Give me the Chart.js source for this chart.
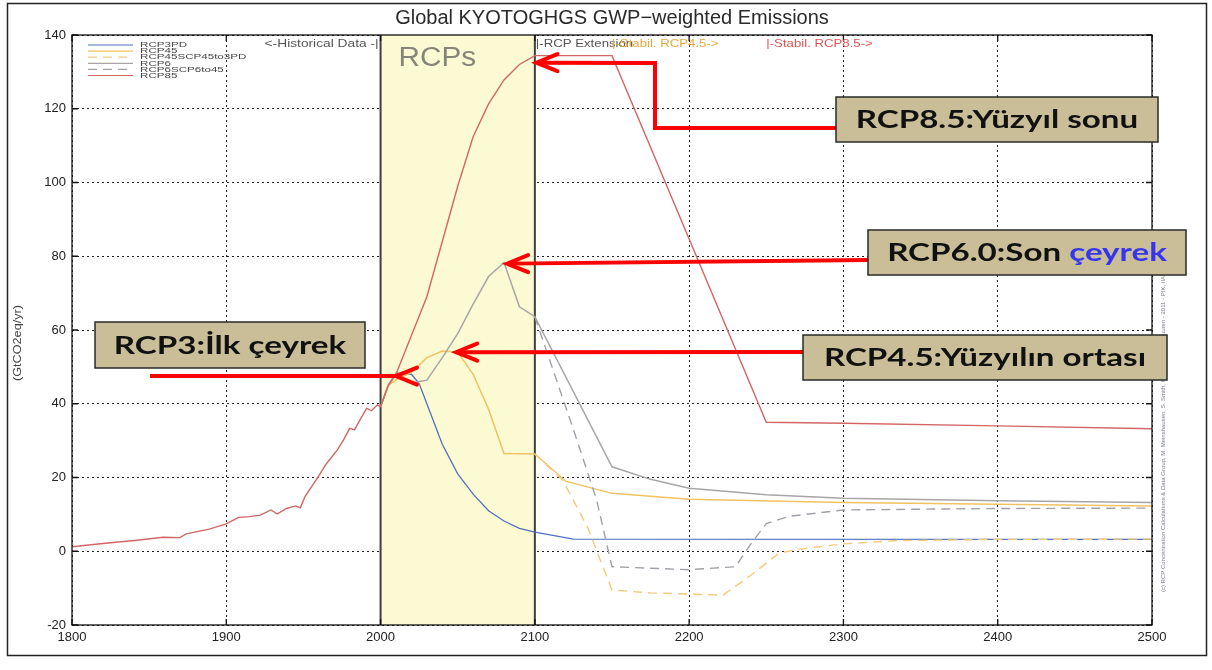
<!DOCTYPE html>
<html lang="tr">
<head>
<meta charset="utf-8">
<title>Global KYOTOGHGS GWP-weighted Emissions</title>
<script src="https://cdn.jsdelivr.net/npm/chart.js@4.4.1/dist/chart.umd.min.js"></script>
<style>
  html, body { margin: 0; padding: 0; background: #fff; }
  #kutu { width: 1212px; height: 670px; position: relative; }
</style>
</head>
<body>
<div id="kutu"><canvas id="grafik"></canvas></div>
<script>
// ── Veri (GtCO2eq/yr) ───────────────────────────────────
var TARIH_YIL   = [1800, 1820, 1842, 1859, 1870, 1874, 1889, 1900, 1908, 1915, 1922, 1929, 1933, 1939, 1945, 1948, 1951, 1959, 1965, 1972, 1976, 1980, 1983, 1991, 1994, 1998, 2000];
var TARIH_DEGER = [1.2, 2.1, 3.0, 3.8, 3.7, 4.7, 6.0, 7.4, 9.2, 9.4, 9.8, 11.2, 10.1, 11.6, 12.3, 11.8, 14.8, 19.8, 23.8, 27.5, 30.2, 33.3, 32.9, 38.8, 38.1, 39.7, 39.2];

var RCP3PD_YIL   = [2000, 2005, 2010, 2020, 2025, 2030, 2040, 2050, 2060, 2070, 2080, 2090, 2100, 2125, 2500];
var RCP3PD_DEGER = [39.2, 45, 48.3, 48, 45.5, 40, 29, 21, 15.5, 11, 8.2, 6.2, 5.2, 3.3, 3.2];

var RCP45_YIL   = [2000, 2005, 2010, 2020, 2030, 2040, 2050, 2060, 2070, 2080, 2100, 2120, 2150, 2200, 2300, 2500];
var RCP45_DEGER = [39.2, 45, 46.5, 48.5, 52.5, 54.3, 54, 48, 38.5, 26.5, 26.4, 19, 15.7, 14.1, 13.2, 12.3];

var RCP45SCP_YIL   = [2100, 2118, 2134, 2150, 2175, 2222, 2240, 2258, 2270, 2300, 2335, 2400, 2500];
var RCP45SCP_DEGER = [26.4, 19.3, 6.7, -10.5, -11.3, -11.9, -6.5, -0.6, 0.5, 2.0, 2.9, 3.2, 3.3];

var RCP6_YIL   = [2000, 2005, 2010, 2020, 2030, 2040, 2050, 2060, 2070, 2080, 2090, 2100, 2150, 2175, 2200, 2250, 2300, 2400, 2500];
var RCP6_DEGER = [39.2, 45, 48, 45.6, 46.4, 52.5, 59, 67, 74.5, 78.3, 66.3, 63.6, 22.9, 19.5, 17.1, 15.3, 14.4, 13.7, 13.2];

var RCP6SCP_YIL   = [2100, 2125, 2140, 2150, 2200, 2230, 2240, 2250, 2265, 2300, 2400, 2500];
var RCP6SCP_DEGER = [63.6, 33, 14, -4.2, -5, -4.2, 2, 7.5, 9.5, 11.2, 11.6, 11.7];

var RCP85_YIL   = [2005, 2010, 2020, 2030, 2040, 2050, 2060, 2070, 2080, 2090, 2100, 2150, 2250, 2300, 2400, 2500];
var RCP85_DEGER = [45, 48, 58.5, 69, 84, 99, 112.4, 121.3, 127.8, 132, 134.4, 134.4, 35, 34.7, 34, 33.2];

var X_TIKLER = [1800, 1900, 2000, 2100, 2200, 2300, 2400, 2500];
var Y_TIKLER = [-20, 0, 20, 40, 60, 80, 100, 120, 140];

// ── Renkler ─────────────────────────────────────────────
var MAVI    = '#4f72c0';
var SARI    = '#f0c262';
var SARI_K  = '#f3c97c';
var GRI     = '#a6a6a6';
var GRI_K   = '#a0a0aa';
var KIRMIZI = '#d26666';
var OK_RENK = '#ff0000';
var KUTU    = '#c9be97';

Chart.defaults.font.family = "'Liberation Sans', Arial, sans-serif";
Chart.defaults.color = '#222';

function noktalar(yillar, degerler) {
  return yillar.map(function(y, i) { return { x: y, y: degerler[i] }; });
}

var seriler = [
  { label: 'RCP3PD', data: noktalar(RCP3PD_YIL, RCP3PD_DEGER), borderColor: MAVI, borderWidth: 1.3, order: 5 },
  { label: 'RCP45', data: noktalar(RCP45_YIL, RCP45_DEGER), borderColor: SARI, borderWidth: 1.5, order: 4 },
  { label: 'RCP45SCP45to3PD', data: noktalar(RCP45SCP_YIL, RCP45SCP_DEGER), borderColor: SARI_K, borderWidth: 1.4, borderDash: [9, 6], order: 3 },
  { label: 'RCP6', data: noktalar(RCP6_YIL, RCP6_DEGER), borderColor: GRI, borderWidth: 1.5, order: 2 },
  { label: 'RCP6SCP6to45', data: noktalar(RCP6SCP_YIL, RCP6SCP_DEGER), borderColor: GRI_K, borderWidth: 1.4, borderDash: [9, 6], order: 1 },
  { label: 'RCP85', data: noktalar(TARIH_YIL.concat(RCP85_YIL), TARIH_DEGER.concat(RCP85_DEGER)), borderColor: KIRMIZI, borderWidth: 1.4, order: 0 }
];

// Okların gösterdiği noktalar (yıl, değer)
var ETIKETLER = [
  { metin: ['RCP8.5:Yüzyıl sonu'], kutu: [836, 97, 322, 45], uc: [2101, 132.5], yol: [[836, 128], [655, 128], [655, 63]] },
  { metin: ['RCP6.0:Son ', 'çeyrek'], kutu: [868, 230, 318, 45], uc: [2082, 78], yol: [[868, 260]] },
  { metin: ['RCP4.5:Yüzyılın ortası'], kutu: [803, 335, 364, 45], uc: [2049, 54], yol: [[803, 352]] },
  { metin: ['RCP3:İlk çeyrek'], kutu: [95, 322, 270, 46], uc: [2010, 47.5], yol: [[150, 376]] }
];

function ok(ctx, yol, ux, uy) {
  ctx.save();
  ctx.strokeStyle = OK_RENK;
  ctx.lineWidth = 4;
  ctx.beginPath();
  ctx.moveTo(yol[0][0], yol[0][1]);
  for (var i = 1; i < yol.length; i++) ctx.lineTo(yol[i][0], yol[i][1]);
  ctx.lineTo(ux + 2, uy);
  ctx.stroke();
  ctx.lineCap = 'round';
  ctx.beginPath();
  ctx.moveTo(ux + 21, uy - 8.5);
  ctx.lineTo(ux, uy);
  ctx.lineTo(ux + 21, uy + 8.5);
  ctx.stroke();
  ctx.restore();
}

// yatay olarak gerilmiş yazı
function yaz(ctx, metin, x, y, sx) {
  ctx.save();
  ctx.translate(x, y);
  ctx.scale(sx, 1);
  ctx.fillText(metin, 0, 0);
  ctx.restore();
}

// ── Süslemeler: bant, çerçeve, lejant, notlar ───────────
var suslemeler = {
  id: 'suslemeler',
  beforeDatasetsDraw: function(chart) {
    var ctx = chart.ctx, a = chart.chartArea;
    var xs = chart.scales.x;
    var x0 = xs.getPixelForValue(2000), x1 = xs.getPixelForValue(2100);
    ctx.save();
    ctx.fillStyle = '#fcfad2';
    ctx.fillRect(x0, a.top, x1 - x0, a.bottom - a.top);
    ctx.fillStyle = '#85857a';
    ctx.font = "27px 'Liberation Sans', Arial";
    ctx.textBaseline = 'alphabetic';
    yaz(ctx, 'RCPs', x0 + 18, a.top + 31, 1.1);
    ctx.strokeStyle = '#404040';
    ctx.lineWidth = 2;
    ctx.beginPath();
    ctx.moveTo(x0, a.top); ctx.lineTo(x0, a.bottom);
    ctx.moveTo(x1, a.top); ctx.lineTo(x1, a.bottom);
    ctx.stroke();
    ctx.restore();
  },
  afterDatasetsDraw: function(chart) {
    var ctx = chart.ctx, a = chart.chartArea;
    var xs = chart.scales.x, ys = chart.scales.y;
    ctx.save();

    // eksen kutusu ve içe dönük çentikler
    ctx.strokeStyle = '#111';
    ctx.lineWidth = 1.3;
    ctx.strokeRect(a.left, a.top, a.right - a.left, a.bottom - a.top);
    ctx.beginPath();
    Y_TIKLER.forEach(function(v) {
      var y = ys.getPixelForValue(v);
      ctx.moveTo(a.left, y); ctx.lineTo(a.left + 6, y);
      ctx.moveTo(a.right, y); ctx.lineTo(a.right - 6, y);
    });
    X_TIKLER.forEach(function(v) {
      var x = xs.getPixelForValue(v);
      ctx.moveTo(x, a.bottom); ctx.lineTo(x, a.bottom - 6);
      ctx.moveTo(x, a.top); ctx.lineTo(x, a.top + 6);
    });
    ctx.stroke();

    // başlık ve eksen adı
    ctx.fillStyle = '#2a2a2a';
    ctx.textAlign = 'center';
    ctx.textBaseline = 'middle';
    ctx.font = "20px 'Liberation Sans', Arial";
    ctx.fillText('Global KYOTOGHGS GWP\u2212weighted Emissions', (a.left + a.right) / 2, 18);
    ctx.save();
    ctx.translate(18, 343);
    ctx.rotate(-Math.PI / 2);
    ctx.font = "11px 'Liberation Sans', Arial";
    ctx.fillStyle = '#444';
    ctx.scale(1.15, 1);
    ctx.fillText('(GtCO2eq/yr)', 0, 0);
    ctx.restore();

    // üst bölge yazıları
    ctx.font = "11px 'Liberation Sans', Arial";
    ctx.fillStyle = '#555';
    ctx.textAlign = 'left';
    var gen = ctx.measureText('<-Historical Data -|').width * 1.25;
    yaz(ctx, '<-Historical Data -|', xs.getPixelForValue(2000) - 2 - gen, a.top + 9, 1.25);
    yaz(ctx, '|-RCP Extension', xs.getPixelForValue(2100) + 1, a.top + 9, 1.2);
    ctx.fillStyle = '#e6a83c';
    yaz(ctx, '|-Stabil. RCP4.5->', xs.getPixelForValue(2150), a.top + 9, 1.2);
    ctx.fillStyle = '#e05555';
    yaz(ctx, '|-Stabil. RCP8.5->', xs.getPixelForValue(2250), a.top + 9, 1.2);

    // küçük dikey künye
    ctx.save();
    ctx.translate(a.right + 11, 430);
    ctx.rotate(-Math.PI / 2);
    ctx.textAlign = 'center';
    ctx.font = "6px 'Liberation Sans', Arial";
    ctx.fillStyle = '#7a7f90';
    ctx.fillText('(c) RCP Concentration Calculations & Data Group, M. Meinshausen, S. Smith, K. Riahi, D. van Vuuren - 2011 - PIK, IIASA', 0, 0);
    ctx.restore();

    // lejant
    ctx.font = "8px 'Liberation Sans', Arial";
    ctx.textAlign = 'left';
    ctx.textBaseline = 'middle';
    chart.data.datasets.forEach(function(ds, i) {
      var y = 45 + i * 6.1;
      ctx.strokeStyle = ds.borderColor;
      ctx.lineWidth = 1.2;
      ctx.setLineDash(ds.borderDash || []);
      ctx.beginPath(); ctx.moveTo(88, y); ctx.lineTo(133, y); ctx.stroke();
      ctx.setLineDash([]);
      ctx.fillStyle = '#444';
      yaz(ctx, ds.label, 140, y, 1.45);
    });

    // dış çerçeve
    ctx.strokeStyle = '#222';
    ctx.lineWidth = 1.5;
    ctx.strokeRect(7.5, 3.5, 1199, 652);

    // notlar ve oklar
    ETIKETLER.forEach(function(e) {
      var k = e.kutu;
      ok(ctx, e.yol, xs.getPixelForValue(e.uc[0]), ys.getPixelForValue(e.uc[1]));
      ctx.fillStyle = KUTU;
      ctx.fillRect(k[0], k[1], k[2], k[3]);
      ctx.strokeStyle = '#2a2a2a';
      ctx.lineWidth = 1.5;
      ctx.strokeRect(k[0], k[1], k[2], k[3]);
      ctx.font = "bold 24px Lato, 'Open Sans', sans-serif";
      ctx.textBaseline = 'middle';
      ctx.textAlign = 'left';
      var sx = 1.38;
      var toplam = 0;
      e.metin.forEach(function(p) { toplam += ctx.measureText(p).width * sx; });
      var x = k[0] + (k[2] - toplam) / 2;
      e.metin.forEach(function(p, j) {
        ctx.fillStyle = j === 0 ? '#111' : '#3535ee';
        yaz(ctx, p, x, k[1] + k[3] / 2 + 1, sx);
        x += ctx.measureText(p).width * sx;
      });
    });
    ctx.restore();
  }
};

function yilYaz(v) { return String(v); }

new Chart(document.getElementById('grafik'), {
  type: 'line',
  data: { datasets: seriler },
  options: {
    responsive: true,
    maintainAspectRatio: false,
    animation: false,
    layout: { padding: { top: 35, right: 60, bottom: 0, left: 0 } },
    elements: { point: { radius: 0 }, line: { tension: 0 } },
    plugins: { legend: { display: false }, tooltip: { enabled: false } },
    scales: {
      x: {
        type: 'linear', min: 1800, max: 2500,
        afterBuildTicks: function(s) { s.ticks = X_TIKLER.map(function(v) { return { value: v }; }); },
        afterFit: function(s) { s.height = 45; },
        grid: { color: '#222', drawTicks: false },
        border: { display: false, dash: [2, 3] },
        ticks: { padding: 5, font: { size: 13 }, color: '#222', maxRotation: 0, callback: yilYaz }
      },
      y: {
        min: -20, max: 140,
        afterBuildTicks: function(s) { s.ticks = Y_TIKLER.map(function(v) { return { value: v }; }); },
        afterFit: function(s) { s.width = 72; },
        grid: { color: '#222', drawTicks: false },
        border: { display: false, dash: [2, 3] },
        ticks: { padding: 6, font: { size: 13 }, color: '#222', callback: yilYaz }
      }
    }
  },
  plugins: [suslemeler]
});
</script>
</body>
</html>
